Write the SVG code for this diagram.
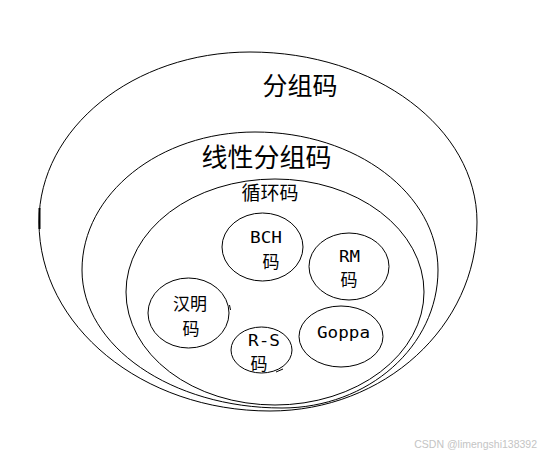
<svg xmlns="http://www.w3.org/2000/svg" width="543" height="457" viewBox="0 0 543 457">
<style>
  .ring { fill: none; stroke: #000; stroke-width: 1; }
  .cjk { font-family: "Noto Sans CJK SC", "Noto Sans CJK JP", sans-serif; fill: #000; text-anchor: middle; dominant-baseline: central; }
  .sm { font-size: 17px; }
  .lat { font-family: "DejaVu Sans Mono", "Liberation Mono", monospace; font-size: 16px; fill: #000; text-anchor: middle; }
  .mark { fill: none; stroke: #000; stroke-width: 1; }
</style>
<rect width="543" height="457" fill="#fff"/>
<g id="block-codes">
  <path class="ring" d="M250,52 C375.4,52 477,128.1 477,222 C477,326.4 384.3,411 270,411 C142.4,411 39,326.4 39,222 C39,128.1 133.5,52 250,52 Z"/>
  <line x1="39.5" y1="208" x2="39.5" y2="229" stroke="#000" stroke-width="2"/>
  <text class="cjk" x="300" y="84" font-size="25">分组码</text>
</g>
<g id="linear-block-codes">
  <path class="ring" d="M255,132 C356.1,132 438,193.8 438,270 C438,346.2 368.2,408 282,408 C171.5,408 82,346.2 82,270 C82,193.8 159.5,132 255,132 Z"/>
  <text class="cjk" x="266.5" y="155" font-size="26">线性分组码</text>
</g>
<g id="cyclic-codes">
  <ellipse class="ring" cx="275" cy="292" rx="149" ry="113"/>
  <text class="cjk" x="270" y="191" font-size="19">循环码</text>
</g>
<g id="bch">
  <ellipse class="ring" cx="262.5" cy="247" rx="40.5" ry="34"/>
  <text class="lat" x="266" y="243" textLength="32" lengthAdjust="spacingAndGlyphs">BCH</text>
  <text class="cjk sm" x="271" y="260">码</text>
</g>
<g id="rm">
  <ellipse class="ring" cx="349" cy="266.5" rx="40" ry="33.5"/>
  <text class="lat" x="349.5" y="262" textLength="21" lengthAdjust="spacingAndGlyphs">RM</text>
  <text class="cjk sm" x="349" y="278">码</text>
</g>
<g id="hamming">
  <ellipse class="ring" cx="188.5" cy="313" rx="40.5" ry="35"/>
  <path class="mark" d="M229.5,305 L230.5,310"/>
  <text class="cjk sm" x="190" y="302">汉明</text>
  <text class="cjk sm" x="191" y="327">码</text>
</g>
<g id="rs">
  <ellipse class="ring" cx="261.5" cy="350" rx="30.5" ry="23"/>
  <path class="mark" d="M276,372 L283,369"/>
  <text class="lat" x="264" y="346" textLength="32" lengthAdjust="spacingAndGlyphs">R-S</text>
  <text class="cjk sm" x="259" y="362">码</text>
</g>
<g id="goppa">
  <ellipse class="ring" cx="341" cy="336.5" rx="42" ry="30.5"/>
  <text class="lat" x="343.5" y="338" textLength="53" lengthAdjust="spacingAndGlyphs">Goppa</text>
</g>
<g id="connectors"></g>
<text x="537" y="448" font-family="Liberation Sans, Arial, sans-serif" font-size="10.5" fill="#c4c4c4" text-anchor="end">CSDN @limengshi138392</text>
</svg>
